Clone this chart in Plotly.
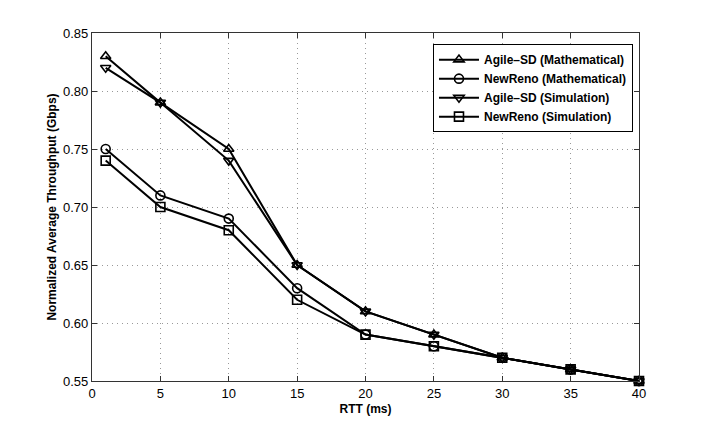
import plotly.graph_objects as go

rtt = [1, 5, 10, 15, 20, 25, 30, 35, 40]
agile_math = [0.83, 0.79, 0.75, 0.65, 0.61, 0.59, 0.57, 0.56, 0.55]
newreno_math = [0.75, 0.71, 0.69, 0.63, 0.59, 0.58, 0.57, 0.56, 0.55]
agile_sim = [0.82, 0.79, 0.74, 0.65, 0.61, 0.59, 0.57, 0.56, 0.55]
newreno_sim = [0.74, 0.70, 0.68, 0.62, 0.59, 0.58, 0.57, 0.56, 0.55]

series = [
    ("Agile\u2013SD (Mathematical)", agile_math, "triangle-up-open"),
    ("NewReno (Mathematical)", newreno_math, "circle-open"),
    ("Agile\u2013SD (Simulation)", agile_sim, "triangle-down-open"),
    ("NewReno (Simulation)", newreno_sim, "square-open"),
]

fig = go.Figure()
for name, ys, sym in series:
    fig.add_trace(go.Scatter(
        x=rtt, y=ys, name="<b>" + name + "</b>", mode="lines+markers",
        line=dict(color="black", width=2),
        marker=dict(symbol=sym, size=9, color="black", line=dict(color="black", width=1.6)),
        cliponaxis=False,
    ))

font = "Liberation Sans, Arial, sans-serif"
axis_common = dict(
    showline=True, linecolor="#333333", linewidth=1.3, mirror="ticks",
    ticks="inside", ticklen=5, tickcolor="#333333",
    showgrid=True, gridcolor="#999999", griddash="1px,4px", gridwidth=1,
    zeroline=False, tickfont=dict(family=font, size=13, color="black"),
)
fig.update_xaxes(range=[0, 40], tickvals=[0, 5, 10, 15, 20, 25, 30, 35, 40],
                 title=dict(text="<b>RTT (ms)</b>", font=dict(family=font, size=12, color="black"), standoff=4),
                 **axis_common)
fig.update_yaxes(range=[0.55, 0.85], tickvals=[0.55, 0.60, 0.65, 0.70, 0.75, 0.80, 0.85],
                 tickformat=".2f",
                 title=dict(text="<b>Normalized Average Throughput (Gbps)</b>", font=dict(family=font, size=12, color="black"), standoff=3),
                 **axis_common)
fig.update_layout(
    width=706, height=429,
    margin=dict(l=84, r=75, t=25, b=56),
    plot_bgcolor="white", paper_bgcolor="white",
    font=dict(family=font, color="black"),
    legend=dict(x=0.989, y=0.968, xanchor="right", yanchor="top",
                bgcolor="white", bordercolor="black", borderwidth=1,
                font=dict(family=font, size=12, color="black"),
                tracegroupgap=0, itemwidth=40),
    showlegend=True,
)
fig.write_html("out.html")
